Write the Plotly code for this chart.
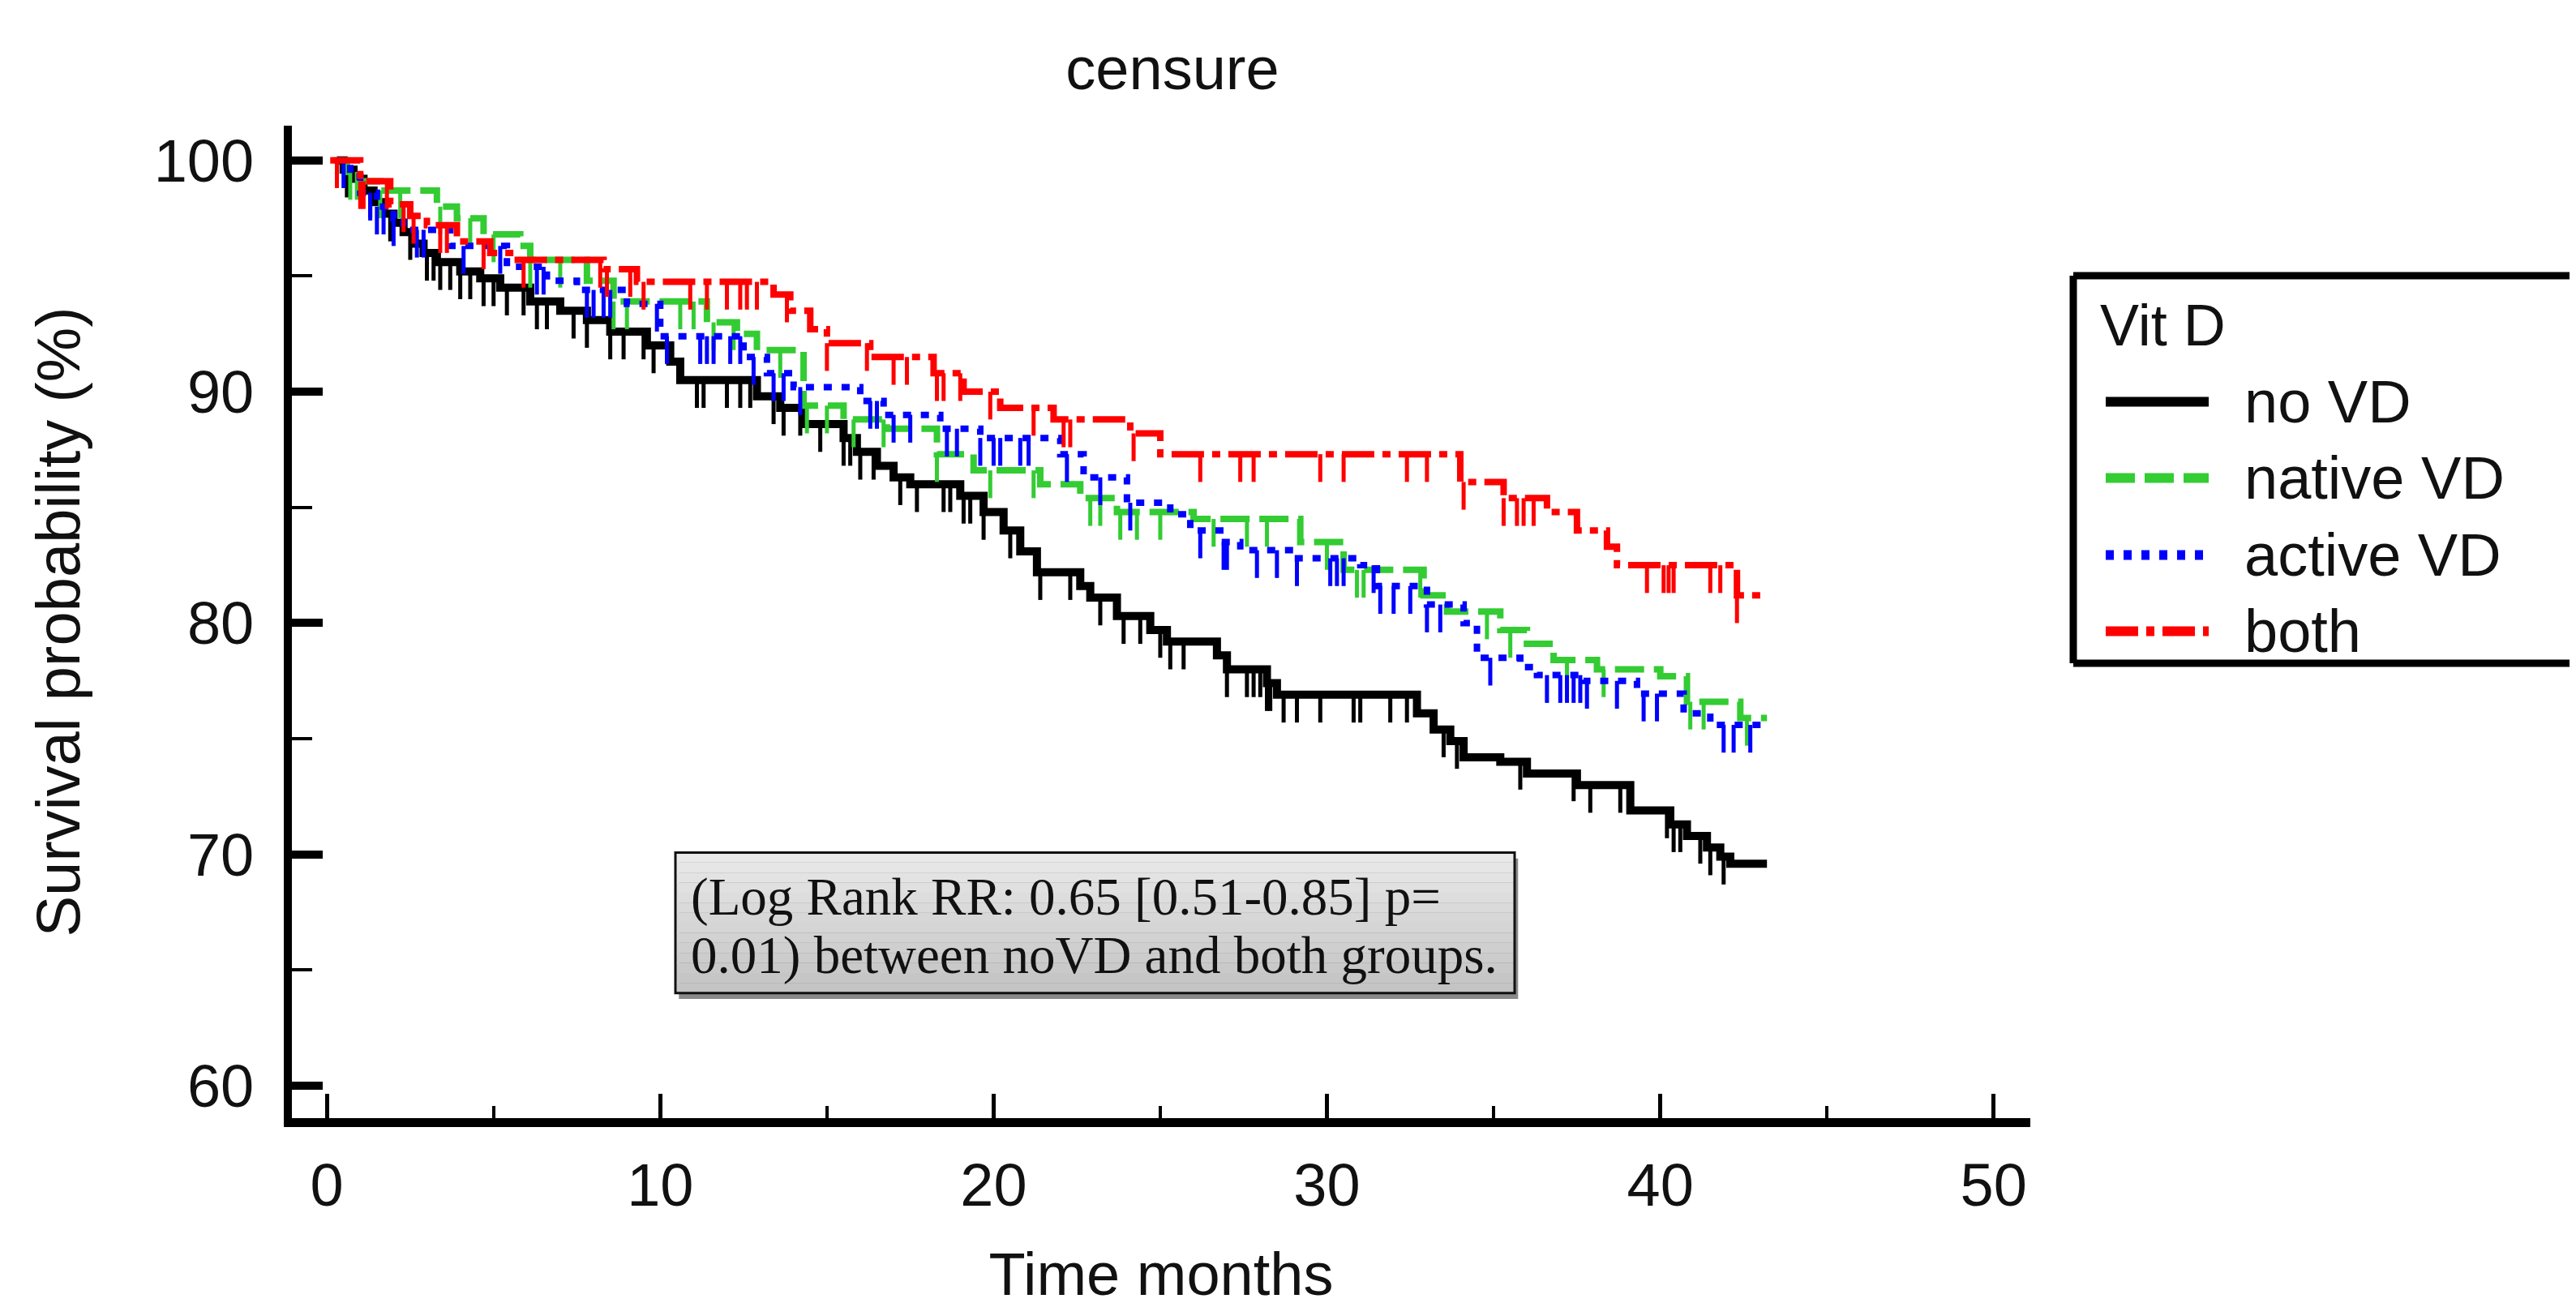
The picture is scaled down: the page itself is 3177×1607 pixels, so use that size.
import numpy as np
import plotly.graph_objects as go

# ---------------- data ----------------
groups = ["no VD", "native VD", "active VD", "both"]

novd_t = [0.3, 0.5, 0.8, 1.1, 1.4, 1.7, 2.0, 2.3, 2.6, 2.9, 3.3, 4.0, 4.6, 5.2, 6.1, 7.0, 7.8, 8.5, 9.6, 10.3,
          10.6, 12.9, 13.6, 14.3, 15.5, 15.9, 16.5, 17.0, 17.5, 19.0, 19.7, 20.3, 20.8, 21.3, 22.6, 22.9, 23.7, 24.7, 25.2, 26.7,
          27.0, 28.2, 28.5, 32.7, 33.2, 33.7, 34.1, 35.2, 36.0, 37.5, 39.1, 40.3, 40.8, 41.4, 41.8, 42.1, 43.2]
novd_s = [100, 99.6, 99.2, 98.7, 98.2, 97.7, 97.3, 96.9, 96.4, 96.0, 95.6, 95.2, 94.9, 94.5, 93.9, 93.5, 93.1, 92.6, 92.0, 91.3,
          90.5, 89.8, 89.3, 88.6, 88.0, 87.4, 86.8, 86.3, 86.0, 85.5, 84.8, 84.0, 83.1, 82.2, 81.6, 81.1, 80.3, 79.7, 79.2, 78.6,
          78.0, 77.4, 76.9, 76.1, 75.4, 74.9, 74.2, 74.0, 73.5, 73.0, 71.9, 71.3, 70.8, 70.3, 69.9, 69.6, 69.6]
novd_c = [0.6, 1.3, 1.9, 2.5, 3.0, 3.2, 3.4, 3.7, 4.0, 4.3, 4.7, 5.0, 5.4, 5.9, 6.3, 6.6, 7.4, 7.8, 8.5, 8.9,
          9.5, 9.8, 11.1, 11.3, 12.0, 12.4, 12.7, 13.4, 13.7, 14.2, 14.8, 15.5, 15.7, 16.0, 16.4, 17.2, 17.7, 18.5, 18.7, 19.1,
          19.3, 19.7, 20.5, 21.4, 22.3, 23.2, 23.9, 24.4, 25.0, 25.3, 25.7, 27.0, 27.6, 27.8, 28.0, 28.2, 28.3, 28.7, 29.1, 29.8,
          30.8, 31.0, 31.9, 32.4, 33.5, 33.9, 35.8, 37.4, 37.9, 38.8, 40.2, 40.4, 40.6, 41.2, 41.5, 41.9]

native_t = [0.2, 0.6, 1.0, 1.6, 3.3, 3.9, 4.7, 5.8, 6.1, 7.8, 8.6, 11.4, 12.3, 12.9, 14.3, 15.5, 16.8, 18.3, 19.4, 21.4,
            22.6, 23.7, 26.0, 29.2, 30.5, 32.9, 33.6, 35.2, 36.0, 36.8, 38.1, 40.0, 40.8, 42.4, 43.2]
native_s = [100, 99.5, 99.1, 98.7, 98.0, 97.5, 96.8, 96.3, 95.7, 94.8, 93.9, 93.0, 92.5, 91.8, 89.4, 88.8, 88.4, 87.3, 86.6, 86.0,
            85.4, 84.8, 84.5, 83.5, 82.3, 81.2, 80.5, 79.7, 79.1, 78.4, 78.0, 77.7, 76.6, 75.9, 75.9]
native_c = [0.7, 0.9, 1.6, 2.2, 3.4, 4.3, 5.0, 6.1, 7.0, 8.6, 9.0, 10.6, 11.0, 11.6, 12.2, 13.6, 14.4, 15.0, 15.8, 16.7,
            18.3, 19.9, 21.2, 22.9, 23.2, 23.8, 24.3, 25.0, 26.6, 27.6, 28.2, 30.0, 30.9, 31.1, 32.8, 34.8, 35.5, 37.2, 38.3, 40.9,
            41.3, 42.6]

active_t = [0.3, 0.7, 1.0, 1.5, 2.0, 2.3, 3.7, 5.4, 6.6, 7.5, 9.0, 10.0, 12.5, 13.2, 14.0, 16.0, 16.7, 18.4, 19.6, 22.0,
            22.7, 24.0, 25.3, 25.9, 26.8, 27.4, 29.0, 31.0, 31.5, 33.0, 34.1, 34.5, 35.8, 36.3, 37.7, 39.3, 40.7, 41.5, 43.2]
active_s = [100, 99.3, 98.6, 98.0, 97.5, 97.0, 96.3, 95.4, 94.8, 94.4, 93.8, 92.4, 91.5, 90.8, 90.2, 89.6, 89.0, 88.4, 88.0, 87.3,
            86.3, 85.2, 84.7, 84.0, 83.5, 83.15, 82.8, 82.5, 81.6, 80.8, 80.0, 78.5, 78.1, 77.75, 77.5, 76.95, 76.1, 75.6, 75.6]
active_c = [0.5, 1.3, 1.5, 1.7, 2.0, 2.7, 2.9, 4.1, 5.2, 6.3, 6.5, 7.8, 8.0, 8.3, 8.5, 9.9, 10.2, 11.2, 11.4, 11.6,
            12.1, 12.4, 12.8, 13.4, 13.7, 14.2, 16.3, 16.5, 17.0, 17.5, 18.6, 18.9, 19.6, 20.0, 20.2, 20.8, 21.05, 22.2, 23.2, 24.1,
            26.2, 26.9, 27.0, 27.9, 28.5, 29.1, 30.1, 30.3, 30.5, 31.4, 31.6, 32.0, 32.5, 33.0, 33.4, 34.9, 36.6, 37.0, 37.2, 37.4,
            37.6, 37.8, 38.7, 39.5, 39.9, 41.9, 42.2, 42.7]

both_t = [0.1, 1.0, 1.9, 2.5, 3.0, 3.9, 4.9, 5.6, 8.3, 9.3, 13.4, 13.9, 14.5, 15.0, 16.3, 18.2, 19.1, 20.2, 21.8, 24.1,
          25.0, 34.0, 35.3, 36.6, 37.5, 38.4, 38.7, 42.3, 43.2]
both_s = [100, 99.1, 98.1, 97.6, 97.2, 96.5, 96.0, 95.7, 95.3, 94.75, 94.2, 93.5, 92.7, 92.1, 91.5, 90.8, 90.0, 89.3, 88.8, 88.2,
          87.3, 86.1, 85.4, 84.8, 84.0, 83.3, 82.5, 81.2, 81.2]
both_c = [0.3, 1.0, 1.1, 1.8, 2.3, 2.6, 3.4, 3.6, 4.7, 5.9, 8.2, 8.4, 9.1, 9.5, 10.9, 11.4, 12.0, 12.4, 12.6, 12.9,
          13.8, 15.0, 16.2, 17.0, 17.4, 18.3, 18.5, 19.0, 19.9, 21.2, 22.1, 22.3, 24.2, 26.2, 27.4, 27.8, 29.8, 30.5, 32.4, 33.0,
          34.1, 35.3, 35.7, 35.9, 36.2, 39.6, 40.1, 40.25, 40.4, 41.5, 41.8, 42.3]

x_ticks = [0, 10, 20, 30, 40, 50]
y_ticks = [60, 70, 80, 90, 100]
annot_lines = ["(Log Rank RR: 0.65 [0.51-0.85] p=", "0.01) between noVD and both groups."]

# ---------------- styles ----------------
colors = ["#000000", "#33cc33", "#0000ff", "#ff0000"]
dashes = ["solid", "36px,12px", "10px,12px", "40px,10px,10px,10px"]
widths = [10, 8, 8, 8]
series = [(novd_t, novd_s, novd_c), (native_t, native_s, native_c),
          (active_t, active_s, active_c), (both_t, both_s, both_c)]
CENSOR_LEN = 1.2
SANS = "Liberation Sans, Arial, sans-serif"
SERIF = "Liberation Serif, Times New Roman, serif"

fig = go.Figure()
for name, (t, s, c), col, dsh, w in zip(groups, series, colors, dashes, widths):
    fig.add_trace(go.Scatter(x=t, y=s, mode="lines", name=name, line_shape="hv",
                             line=dict(color=col, width=w, dash=dsh), showlegend=False))
    ta = np.array(t)
    sa = np.array(s)
    cx, cy = [], []
    for ct in c:
        idx = max(np.searchsorted(ta, ct, side="right") - 1, 0)
        v = float(sa[idx])
        cx += [ct, ct, None]
        cy += [v, v - CENSOR_LEN, None]
    fig.add_trace(go.Scatter(x=cx, y=cy, mode="lines", name=name + " censored",
                             line=dict(color=col, width=5), showlegend=False, hoverinfo="skip"))

# ---------------- geometry ----------------
W, H = 3177, 1607
ML, MR, MT, MB = 352, 681, 147, 223
PW, PH = W - ML - MR, H - MT - MB


def px(xp):
    return (xp - ML) / PW


def py(yp):
    return (H - MB - yp) / PH


shapes = []
# annotation box (gradient strips + shadow + border)
bx0, bx1, by0, by1 = px(825), px(1860), py(1228), py(1053)
shapes.append(dict(type="rect", xref="paper", yref="paper", x0=bx0 + 0.002, x1=bx1 + 0.002,
                   y0=by0 - 0.006, y1=by1 - 0.006, fillcolor="#8a8a8a", line=dict(width=0), layer="above"))
nstrip = 14
for i in range(nstrip):
    g = int(0xe9 - (0xe9 - 0xc4) * i / (nstrip - 1))
    ya = by1 - (by1 - by0) * i / nstrip
    yb = by1 - (by1 - by0) * (i + 1) / nstrip
    shapes.append(dict(type="rect", xref="paper", yref="paper", x0=bx0, x1=bx1, y0=yb, y1=ya,
                       fillcolor=f"rgb({g},{g},{g})", line=dict(width=0), layer="above"))
shapes.append(dict(type="rect", xref="paper", yref="paper", x0=bx0, x1=bx1, y0=by0, y1=by1,
                   fillcolor="rgba(0,0,0,0)", line=dict(color="#111", width=3), layer="above"))

# manual legend (box open to the right: it runs off the image edge)
lx0, lx1, ly0, ly1 = px(2549), px(3300), py(817), py(334)
shapes.append(dict(type="rect", xref="paper", yref="paper", x0=lx0, x1=lx1, y0=ly0, y1=ly1,
                   fillcolor="white", line=dict(width=0)))
for (a0, a1, b0, b1) in [(lx0, lx1, ly1, ly1), (lx0, lx1, ly0, ly0), (lx0, lx0, ly0, ly1)]:
    shapes.append(dict(type="line", xref="paper", yref="paper", x0=a0, x1=a1, y0=b0, y1=b1,
                       line=dict(color="black", width=9)))
leg_y = [491, 586, 682, 777]
annotations = []
for name, col, dsh, yy in zip(groups, colors, dashes, leg_y):
    shapes.append(dict(type="line", xref="paper", yref="paper", x0=px(2589), x1=px(2716), y0=py(yy), y1=py(yy),
                       line=dict(color=col, width=12, dash=dsh)))
    annotations.append(dict(xref="paper", yref="paper", x=px(2758), y=py(yy), xanchor="left", yanchor="middle",
                            text=name, showarrow=False, font=dict(family=SANS, size=74, color="#111")))
annotations.append(dict(xref="paper", yref="paper", x=px(2580), y=py(396), xanchor="left", yanchor="middle",
                        text="Vit D", showarrow=False, font=dict(family=SANS, size=72, color="#111")))
for line_txt, yy in zip(annot_lines, [1108, 1181]):
    annotations.append(dict(xref="paper", yref="paper", x=px(842), y=py(yy), xanchor="left", yanchor="middle",
                            text=line_txt, align="left", showarrow=False,
                            font=dict(family=SERIF, size=65, color="#111")))

fig.update_layout(
    width=W, height=H,
    margin=dict(l=ML, r=MR, t=MT, b=MB, pad=0),
    paper_bgcolor="white", plot_bgcolor="white",
    font=dict(family=SANS, size=74, color="#111"),
    title=dict(text="censure", x=1438 / W, xanchor="center", y=1 - 76 / H, yanchor="middle",
               font=dict(family=SANS, size=74, color="#111")),
    xaxis=dict(range=[-1.05, 51.1], tickvals=x_ticks, ticks="inside", ticklen=30, tickwidth=5, tickcolor="black",
               showline=True, linewidth=11, linecolor="black", showgrid=False, zeroline=False,
               minor=dict(ticks="inside", ticklen=15, tickwidth=4, dtick=5, tick0=0, tickcolor="black"),
               tickfont=dict(size=74), ticklabelstandoff=8,
               title=dict(text="Time months", font=dict(size=74), standoff=48)),
    yaxis=dict(range=[58.6, 101.5], tickvals=y_ticks, ticks="inside", ticklen=38, tickwidth=10, tickcolor="black",
               showline=True, linewidth=10, linecolor="black", showgrid=False, zeroline=False,
               minor=dict(ticks="inside", ticklen=25, tickwidth=4, dtick=5, tick0=0, tickcolor="black"),
               tickfont=dict(size=74), ticklabelstandoff=22,
               title=dict(text="Survival probability (%)", font=dict(size=76), standoff=70)),
    shapes=shapes,
    annotations=annotations,
    showlegend=False,
)

fig.write_html("out.html")
